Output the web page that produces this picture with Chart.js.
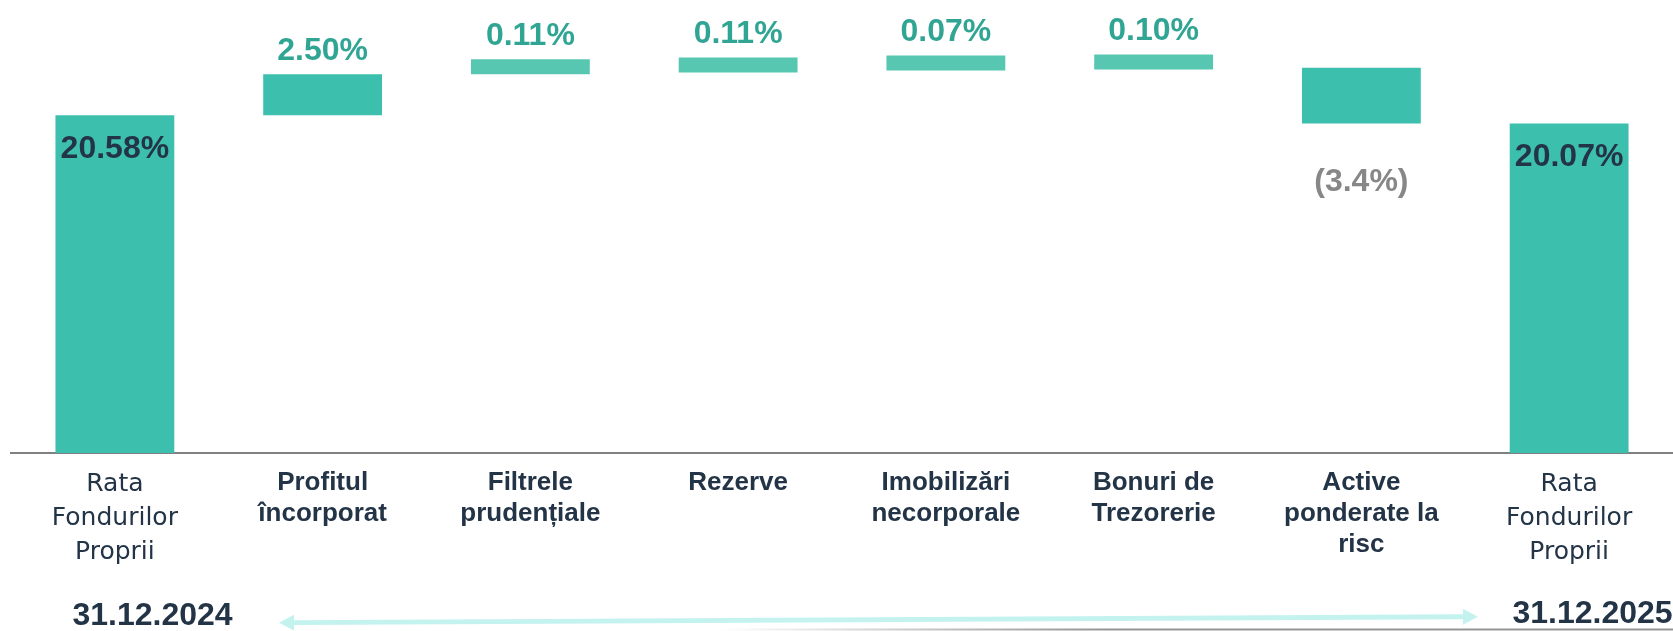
<!DOCTYPE html>
<html>
<head>
<meta charset="utf-8">
<script src="https://cdn.jsdelivr.net/npm/chart.js@4.4.1/dist/chart.umd.min.js"></script>
<style>
  html, body { margin: 0; padding: 0; background: #ffffff; }
  #wrap { width: 1673px; height: 631px; position: relative; }
</style>
</head>
<body>
<div id="wrap"><canvas id="c"></canvas></div>
<script>
// Categories of the own-funds ratio bridge
const categories = [
  ['Rata', 'Fondurilor', 'Proprii'],
  ['Profitul', 'încorporat'],
  ['Filtrele', 'prudențiale'],
  ['Rezerve'],
  ['Imobilizări', 'necorporale'],
  ['Bonuri de', 'Trezorerie'],
  ['Active', 'ponderate la', 'risc'],
  ['Rata', 'Fondurilor', 'Proprii']
];
// Opening / closing totals and the movements between them (percentage points)
const openingRatio = 20.58;
const movements = [2.50, 0.11, 0.11, 0.07, 0.10, -3.4];
const closingRatio = 20.07;
// Text printed on each bar
const valueLabels = ['20.58%', '2.50%', '0.11%', '0.11%', '0.07%', '0.10%', '(3.4%)', '20.07%'];
// Period captions under the axis
const periodLabels = ['31.12.2024', '31.12.2025'];

// Floating [start, end] ranges for the waterfall
const ranges = [[0, openingRatio]];
let level = openingRatio;
movements.forEach(m => { ranges.push([level, level + m]); level += m; });
ranges.push([0, closingRatio]);

const totalIdx = [0, categories.length - 1];
const barColors = ranges.map((r, i) =>
  (i === 0 || i === 1 || i === 6 || i === 7) ? '#3DBFAE' : '#57C7B1');

const NAVY = '#243447';

// Value labels, period captions and the period arrow
const annotate = {
  id: 'annotate',
  afterDatasetsDraw(chart) {
    const ctx = chart.ctx;
    const meta = chart.getDatasetMeta(0);
    ctx.save();
    ctx.textAlign = 'center';
    ctx.textBaseline = 'middle';
    ctx.font = 'bold 32px "Liberation Sans", Arial, sans-serif';
    meta.data.forEach((bar, i) => {
      const top = Math.min(bar.y, bar.base);
      const bottom = Math.max(bar.y, bar.base);
      let y, color;
      if (totalIdx.includes(i)) {
        y = top + 34; color = NAVY;
      } else if (i < 6) {
        y = top - 23; color = '#31A594';
      } else {
        y = bottom + 59; color = '#878787';
      }
      ctx.fillStyle = color;
      ctx.fillText(valueLabels[i], bar.x, y);
    });
    ctx.restore();
  },
  afterDraw(chart) {
    const ctx = chart.ctx;
    ctx.save();
    // faint rule along the bottom edge
    const g = ctx.createLinearGradient(720, 0, 1100, 0);
    g.addColorStop(0, 'rgba(150,150,150,0)');
    g.addColorStop(1, 'rgba(150,150,150,1)');
    ctx.strokeStyle = g;
    ctx.lineWidth = 2;
    ctx.beginPath();
    ctx.moveTo(720, 629.5);
    ctx.lineTo(1673, 629.5);
    ctx.stroke();

    // period arrow
    const x1 = 279, y1 = 622.7, x2 = 1478, y2 = 616.7;
    const head = 15, half = 8;
    const ang = Math.atan2(y2 - y1, x2 - x1);
    const cos = Math.cos(ang), sin = Math.sin(ang);
    ctx.strokeStyle = '#C4F2EF';
    ctx.fillStyle = '#C4F2EF';
    ctx.lineWidth = 5;
    ctx.beginPath();
    ctx.moveTo(x1 + head * cos, y1 + head * sin);
    ctx.lineTo(x2 - head * cos, y2 - head * sin);
    ctx.stroke();
    const tri = (tx, ty, dir) => {
      const bx = tx - dir * head * cos, by = ty - dir * head * sin;
      ctx.beginPath();
      ctx.moveTo(tx, ty);
      ctx.lineTo(bx - half * sin, by + half * cos);
      ctx.lineTo(bx + half * sin, by - half * cos);
      ctx.closePath();
      ctx.fill();
    };
    tri(x2, y2, 1);
    tri(x1, y1, -1);

    // period captions
    ctx.fillStyle = NAVY;
    ctx.font = 'bold 32px "Liberation Sans", Arial, sans-serif';
    ctx.textAlign = 'center';
    ctx.textBaseline = 'alphabetic';
    ctx.fillText(periodLabels[0], 152.5, 625);
    ctx.fillText(periodLabels[1], 1592.5, 623);
    ctx.restore();
  }
};

new Chart(document.getElementById('c'), {
  type: 'bar',
  data: {
    labels: categories,
    datasets: [{
      data: ranges,
      backgroundColor: barColors,
      borderWidth: 0,
      borderSkipped: false,
      barPercentage: 1,
      categoryPercentage: 0.572,
      minBarLength: 15
    }]
  },
  options: {
    responsive: true,
    maintainAspectRatio: false,
    animation: false,
    layout: { padding: { left: 11, right: 0, top: 0, bottom: 0 } },
    plugins: { legend: { display: false }, tooltip: { enabled: false } },
    scales: {
      x: {
        grid: { display: false, drawTicks: false, tickLength: 0 },
        border: { display: true, color: '#808080', width: 2 },
        afterFit(scale) { scale.height = 178; },
        ticks: {
          padding: 14,
          maxRotation: 0,
          autoSkip: false,
          color: NAVY,
          font(ctx) {
            const i = ctx.index;
            if (i === 0 || i === categories.length - 1) {
              return { family: '"DejaVu Sans", sans-serif', size: 25, weight: 'normal', lineHeight: '34px' };
            }
            return { family: '"Liberation Sans", Arial, sans-serif', size: 26, weight: 'bold', lineHeight: '31px' };
          }
        }
      },
      y: { display: false, min: 0, max: 27.6 }
    }
  },
  plugins: [annotate]
});
</script>
</body>
</html>
